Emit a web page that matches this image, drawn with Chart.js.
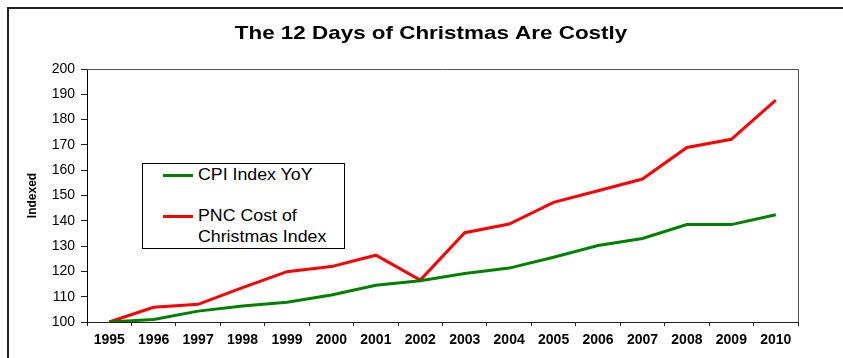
<!DOCTYPE html>
<html>
<head>
<meta charset="utf-8">
<script src="https://cdn.jsdelivr.net/npm/chart.js@4.4.1/dist/chart.umd.min.js"></script>
<style>
  html, body { margin: 0; padding: 0; background: #fff; }
  #wrap { position: relative; width: 843px; height: 358px; overflow: hidden; }
  #legend {
    position: absolute; left: 142px; top: 163px; width: 201px; height: 84px;
    border: 1px solid #000; background: #fff;
    font-family: "Liberation Sans", Arial, sans-serif; font-size: 16px; color: #000;
  }
  .item { position: absolute; left: 20px; }
  .swatch { position: absolute; left: 0; width: 30px; height: 3px; }
  .label {
    position: absolute; left: 35px; white-space: nowrap; line-height: 21px;
    transform: scaleX(1.11); transform-origin: left center;
  }
</style>
</head>
<body>
<div id="wrap">
  <canvas id="chart" width="843" height="358"></canvas>
  <div id="legend">
    <div class="item" style="top:10px">
      <div class="swatch" style="top:0; background:#008000"></div>
      <div class="label" style="top:-10px">CPI Index YoY</div>
    </div>
    <div class="item" style="top:51px">
      <div class="swatch" style="top:0; background:#ff0000"></div>
      <div class="label" style="top:-10px">PNC Cost of<br>Christmas Index</div>
    </div>
  </div>
</div>
<script>
// 数据
const years = ['1995', '1996', '1997', '1998', '1999', '2000', '2001', '2002',
               '2003', '2004', '2005', '2006', '2007', '2008', '2009', '2010'];
const cpiIndex = [100, 101, 104.3, 106.3, 107.8, 110.7, 114.5, 116.3,
                  119.2, 121.3, 125.6, 130.2, 133, 138.5, 138.5, 142.4];
const pncIndex = [100, 105.8, 107, 113.6, 119.9, 121.9, 126.4, 116.6,
                  135.3, 138.7, 147.3, 151.9, 156.5, 169, 172.2, 187.7];
const yTicks = [100, 110, 120, 130, 140, 150, 160, 170, 180, 190, 200];

const chartTitle = 'The 12 Days of Christmas Are Costly';
const fontFamily = '"Liberation Sans", Arial, sans-serif';

// 外框、标题、绘图区边框
const framePlugin = {
    id: 'frame',
    beforeDraw(chart) {
        const ctx = chart.ctx;
        ctx.save();
        ctx.fillStyle = '#fff';
        ctx.fillRect(0, 0, chart.width, chart.height);
        ctx.restore();
    },
    afterDraw(chart) {
        const ctx = chart.ctx;
        const area = chart.chartArea;
        ctx.save();
        // 外框
        ctx.strokeStyle = '#222';
        ctx.lineWidth = 2;
        ctx.strokeRect(8, 8, 900, 400);
        // 绘图区上、右边框
        ctx.strokeStyle = '#555';
        ctx.lineWidth = 1;
        ctx.beginPath();
        ctx.moveTo(area.left, Math.round(area.top) + 0.5);
        ctx.lineTo(Math.round(area.right) + 0.5, Math.round(area.top) + 0.5);
        ctx.lineTo(Math.round(area.right) + 0.5, area.bottom);
        ctx.stroke();
        // 标题（原图文字横向略宽）
        ctx.fillStyle = '#000';
        ctx.font = 'bold 19px ' + fontFamily;
        ctx.textAlign = 'center';
        ctx.textBaseline = 'alphabetic';
        ctx.translate(431, 39);
        ctx.scale(1.18, 1);
        ctx.fillText(chartTitle, 0, 0);
        ctx.restore();
    }
};

new Chart(document.getElementById('chart').getContext('2d'), {
    type: 'line',
    data: {
        labels: years,
        datasets: [
            {
                label: 'CPI Index YoY',
                data: cpiIndex,
                borderColor: '#008000',
                backgroundColor: '#008000',
                borderWidth: 3,
                pointRadius: 0,
                tension: 0
            },
            {
                label: 'PNC Cost of Christmas Index',
                data: pncIndex,
                borderColor: '#ff0000',
                backgroundColor: '#ff0000',
                borderWidth: 3,
                pointRadius: 0,
                tension: 0
            }
        ]
    },
    options: {
        responsive: false,
        animation: false,
        layout: { padding: { left: 25, right: 45, top: 69, bottom: 0 } },
        plugins: {
            legend: { display: false },
            title: { display: false },
            tooltip: { enabled: false }
        },
        scales: {
            x: {
                offset: true,
                grid: {
                    offset: true,
                    drawOnChartArea: false,
                    drawTicks: true,
                    tickLength: 4,
                    tickColor: '#222'
                },
                border: { color: '#222', width: 1 },
                ticks: {
                    color: '#000',
                    font: { family: fontFamily, size: 14, weight: 'bold' },
                    padding: 6,
                    maxRotation: 0,
                    autoSkip: false
                },
                afterFit(scale) { scale.height = 36; }
            },
            y: {
                min: 100,
                max: 200,
                afterBuildTicks(scale) { scale.ticks = yTicks.map(v => ({ value: v })); },
                grid: {
                    drawOnChartArea: false,
                    drawTicks: true,
                    tickLength: 6,
                    tickColor: '#222'
                },
                border: { color: '#000', width: 1 },
                ticks: {
                    color: '#000',
                    font: { family: fontFamily, size: 14 },
                    padding: 6
                },
                title: {
                    display: true,
                    text: 'Indexed',
                    color: '#000',
                    font: { family: fontFamily, size: 12, weight: 'bold' },
                    padding: 0
                },
                afterFit(scale) { scale.width = 62; }
            }
        }
    },
    plugins: [framePlugin]
});
</script>
</body>
</html>
